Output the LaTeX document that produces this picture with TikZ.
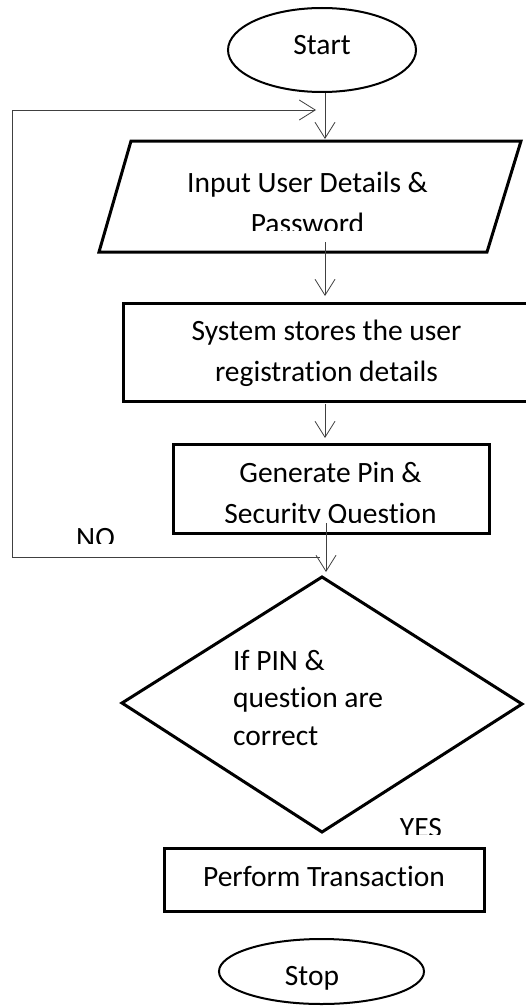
\documentclass[tikz,border=0pt]{standalone}
\usepackage{fontspec}
\setmainfont{Carlito}[RawFeature={-liga;-clig}]
\usetikzlibrary{arrows.meta,shapes.geometric}
\begin{document}
\begin{tikzpicture}[x=1pt,y=-1pt,
  thick shape/.style={draw=black, line width=3pt, line join=miter},
  oval/.style={draw=black, line width=2pt, ellipse, inner sep=0pt},
  conn/.style={draw=black!75, line width=0.8pt,
    -{Straight Barb[length=16pt,width=20pt,line width=0.8pt]}},
  plain/.style={draw=black!75, line width=0.8pt},
  txt/.style={font=\fontsize{29.5}{41.5}\selectfont, inner sep=0pt, align=center, anchor=base},
  ltxt/.style={font=\fontsize{29.5}{37.5}\selectfont, inner sep=0pt, align=left, anchor=base west}]
\useasboundingbox (0,0) rectangle (526,1006);

% Start
\node[oval, minimum width=188pt, minimum height=84pt] (start) at (322,50) {};
\node[txt] (starttxt) at (322,55) {Start};

% Input parallelogram
\coordinate (p1) at (131,141);
\coordinate (p2) at (521,141);
\coordinate (p3) at (487,252);
\coordinate (p4) at (99,252);
\draw[thick shape] (p1) -- (p2) -- (p3) -- (p4) -- cycle;
\begin{scope}
  \clip (100,143) rectangle (500,230.5);
  \node[txt] (input) at (307.5,233.5) {Input User Details \&\\Password};
\end{scope}

% System stores rectangle
\node[thick shape, minimum width=410pt, minimum height=98pt, inner sep=0pt] (store) at (328,352.5) {};
\node[txt] (storetxt) at (326.5,381.7) {System stores the user\\registration details};

% Generate rectangle
\node[thick shape, minimum width=316pt, minimum height=89pt, inner sep=0pt] (gen) at (331,488.5) {};
\begin{scope}
  \clip (180,447) rectangle (480,522.5);
  \node[txt] (gentxt) at (330.5,523.7) {Generate Pin \&\\Security Question};
\end{scope}

% Decision diamond
\coordinate (dtop) at (322,577);
\coordinate (dright) at (522,704);
\coordinate (dbot) at (322,832);
\coordinate (dleft) at (122,703);
\draw[thick shape] (dtop) -- (dright) -- (dbot) -- (dleft) -- cycle;
\node[ltxt] (cond) at (233,745) {If PIN \&\\question are\\correct};

% Perform Transaction
\node[thick shape, minimum width=320pt, minimum height=63pt, inner sep=0pt] (perf) at (324,879.5) {};
\node[txt] (perftxt) at (324,886.5) {Perform Transaction};

% Stop
\node[oval, minimum width=205pt, minimum height=65pt] (stop) at (321.5,971.5) {};
\node[txt] (stoptxt) at (312,985) {Stop};

% Labels
\begin{scope}
  \clip (60,520) rectangle (130,543.3);
  \node[txt] (no) at (95.5,547) {NO};
\end{scope}
\begin{scope}
  \clip (390,805) rectangle (460,834);
  \node[txt] (yes) at (421,837) {YES};
\end{scope}

% Connectors
\coordinate (a0) at (325,93);
\coordinate (a1) at (325,139);
\draw[conn] (a0) -- (a1);
\coordinate (b0) at (325,242);
\coordinate (b1) at (325,296);
\draw[conn] (b0) -- (b1);
\coordinate (c0) at (325,404);
\coordinate (c1) at (325,438);
\draw[conn] (c0) -- (c1);
\coordinate (d0) at (326,523);
\coordinate (d1) at (326,572);
\draw[conn] (d0) -- (d1);

% NO loop back
\coordinate (n0) at (320,557);
\coordinate (n1) at (12,557);
\coordinate (n2) at (12,110);
\coordinate (n3) at (316,110);
\draw[plain] (n0) -- (n1) -- (n2);
\draw[conn] (n2) -- (n3);
\end{tikzpicture}
\end{document}
